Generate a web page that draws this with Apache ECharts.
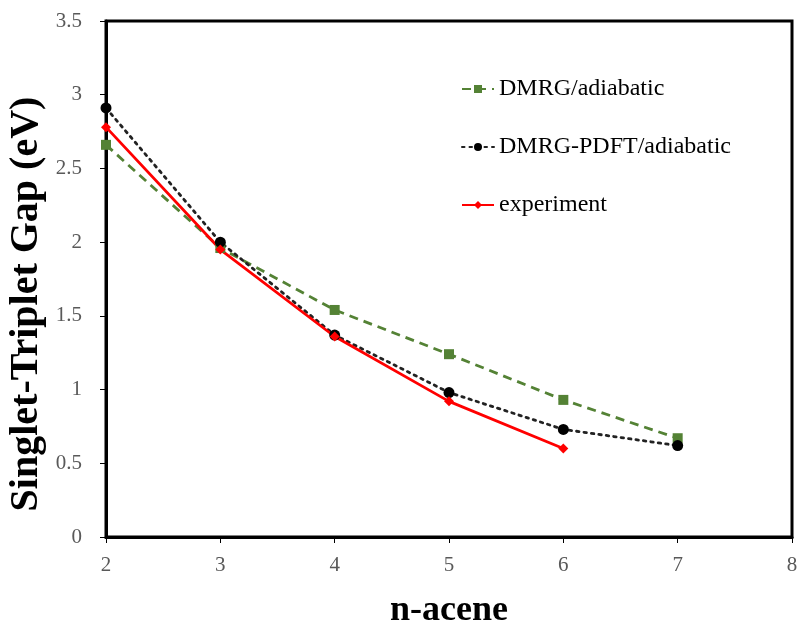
<!DOCTYPE html>
<html>
<head>
<meta charset="utf-8">
<script src="https://cdn.jsdelivr.net/npm/echarts@6/dist/echarts.min.js"></script>
<style>
  html, body { margin: 0; padding: 0; background: #fff; }
  #chart { width: 800px; height: 624px; }
</style>
</head>
<body>
<div id="chart"></div>
<script>
// n-acene sizes
const acenes = [2, 3, 4, 5, 6, 7]
// singlet-triplet gaps (eV)
const dmrgAdiabatic = [2.66, 1.96, 1.54, 1.24, 0.93, 0.67]
const dmrgPdftAdiabatic = [2.91, 2.00, 1.37, 0.98, 0.73, 0.62]
const experiment = [2.78, 1.95, 1.36, 0.92, 0.60]

const pairs = (xs, ys) => ys.map((y, i) => [xs[i], y])

const serif = '"Liberation Serif", "DejaVu Serif", serif'

let myChart = echarts.init(document.getElementById('chart'))
let options = {
  backgroundColor: '#fff',
  animation: false,
  grid: {
    left: 106,
    right: 8,
    top: 21,
    bottom: 87,
    containLabel: false,
    outerBoundsMode: 'none',
    show: true,
    borderColor: '#000',
    borderWidth: 3
  },
  legend: {
    orient: 'vertical',
    left: 456,
    top: 72,
    itemGap: 34,
    itemWidth: 32,
    itemHeight: 10,
    textStyle: {
      fontFamily: serif,
      fontSize: 24,
      color: '#000'
    },
    data: ['DMRG/adiabatic', 'DMRG-PDFT/adiabatic', 'experiment']
  },
  xAxis: {
    type: 'value',
    min: 2,
    max: 8,
    interval: 1,
    name: 'n-acene',
    nameLocation: 'middle',
    nameGap: 56,
    nameMoveOverlap: false,
    nameTextStyle: {
      fontFamily: serif,
      fontSize: 36,
      fontWeight: 'bold',
      color: '#000'
    },
    axisLine: { show: true, lineStyle: { color: '#000', width: 3 } },
    axisTick: { show: true, length: 6, lineStyle: { color: '#000', width: 1 } },
    axisLabel: {
      fontFamily: serif,
      fontSize: 21,
      color: '#595959',
      margin: 18
    },
    splitLine: { show: false }
  },
  yAxis: {
    type: 'value',
    min: 0,
    max: 3.5,
    interval: 0.5,
    name: 'Singlet-Triplet Gap (eV)',
    nameLocation: 'middle',
    nameGap: 59,
    nameMoveOverlap: false,
    nameTextStyle: {
      fontFamily: serif,
      fontSize: 40,
      fontWeight: 'bold',
      color: '#000',
      // nudge the title down the axis
      padding: [0, 50, 0, 0]
    },
    axisLine: { show: true, lineStyle: { color: '#000', width: 3 } },
    axisTick: { show: true, length: 6, lineStyle: { color: '#000', width: 1 } },
    axisLabel: {
      fontFamily: serif,
      fontSize: 21,
      color: '#595959',
      margin: 24
    },
    splitLine: { show: false }
  },
  series: [
    {
      name: 'DMRG/adiabatic',
      type: 'line',
      data: pairs(acenes, dmrgAdiabatic),
      symbol: 'rect',
      symbolSize: 10,
      itemStyle: { color: '#548235' },
      lineStyle: { color: '#548235', width: 2.8, type: [9, 6] }
    },
    {
      name: 'DMRG-PDFT/adiabatic',
      type: 'line',
      data: pairs(acenes, dmrgPdftAdiabatic),
      symbol: 'circle',
      symbolSize: 11,
      itemStyle: { color: '#000' },
      lineStyle: { color: '#222', width: 2.8, type: [2.5, 5], cap: 'round' }
    },
    {
      name: 'experiment',
      type: 'line',
      data: pairs(acenes, experiment),
      symbol: 'diamond',
      symbolSize: 10,
      itemStyle: { color: '#ff0000' },
      lineStyle: { color: '#ff0000', width: 2.8 }
    }
  ]
}
myChart.setOption(options)
</script>
</body>
</html>
